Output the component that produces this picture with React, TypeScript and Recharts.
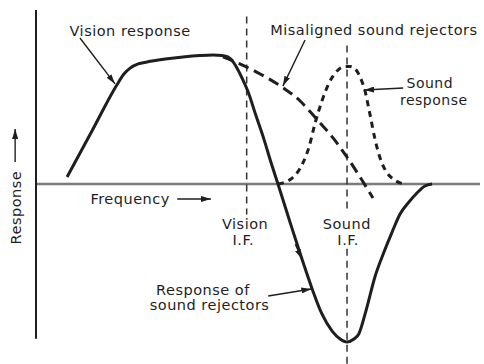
import React from 'react';
import { ComposedChart, Line, XAxis, YAxis, ReferenceLine, ReferenceDot } from 'recharts';

// frequency runs 0..100 (left edge of the axis to right), response -100..100
const mainFreq = [7, 12.6, 18.2, 19.8, 21.2, 23, 25, 29.1, 33.1, 36.9, 39.9, 41.9, 43.2, 44.4, 45.5, 46.6, 47.7, 49.5, 51.4, 52.9, 54.5, 57.2, 59.9, 62.2, 64.4, 66.7, 68.5, 70, 71.6, 72.7, 74.3, 76.4, 78.2, 80.2, 82, 84, 85.8, 87.6, 89.2];
const mainResp = [3.9, 29.4, 55, 61.1, 64.4, 66.7, 67.8, 69.4, 70.6, 71.4, 71.7, 71.4, 70.6, 67.8, 63.3, 57.8, 51.7, 38.3, 24.4, 12.2, 0, -21.1, -41.7, -58.3, -72.2, -81.7, -86.1, -87.8, -86.1, -83.3, -70.6, -51.1, -38.9, -26.7, -16.7, -10, -5, -1.1, 0];

const misFreq = [42.1, 45.9, 50.5, 55.4, 59.5, 62.8, 66.9, 70.5, 73.4, 75.9];
const misResp = [70.6, 66.7, 61.1, 53.9, 46.1, 37.2, 25.6, 13.3, 2.2, -7.8];

const soundFreq = [54.5, 57.7, 59.9, 61.5, 62.8, 64.4, 66, 67.8, 69.6, 70.7, 72.1, 73, 74.1, 75.2, 76.4, 77.5, 78.8, 80.4, 82, 83.1];
const soundResp = [0, 3.3, 10.6, 20.6, 33.3, 46.1, 56.1, 62.8, 65.3, 65.3, 63.3, 59.4, 51.7, 38.9, 24.4, 14.4, 7.2, 2.8, 0.6, 0];

const visionIF = 47.45;
const soundIF = 70.05;

const zip = (xs: number[], ys: number[]) => xs.map((x, i) => ({ x, y: ys[i] }));
const mainData = zip(mainFreq, mainResp);
const misData = zip(misFreq, misResp);
const soundData = zip(soundFreq, soundResp);

const INK = '#1e1e1e';
const FONT = 'DejaVu Sans';

const arrow = (p: any) => (
  <line x1={p.x1} y1={p.y1} x2={p.x2} y2={p.y2} stroke={INK} strokeWidth={1.4} markerEnd="url(#ah)" />
);

const txt = (x: number, y: number, value: string, angle = 0, size = 14.5) => (
  <ReferenceDot
    key={value + x + y}
    x={x}
    y={y}
    r={0}
    stroke="none"
    fill="none"
    ifOverflow="visible"
    label={{ value, position: 'center', fill: INK, fontSize: size, fontFamily: FONT, letterSpacing: 0.5, angle }}
  />
);

const seg = (a: [number, number], b: [number, number], key: string) => (
  <ReferenceLine key={key} segment={[{ x: a[0], y: a[1] }, { x: b[0], y: b[1] }]} ifOverflow="visible" shape={arrow} />
);

export default function App() {
  return (
    <div style={{ position: 'absolute', left: 0, top: 0, background: '#fff' }}>
      <svg width={0} height={0} style={{ position: 'absolute' }}>
        <defs>
          <marker id="ah" viewBox="0 0 10 10" refX={10} refY={5} markerWidth={10} markerHeight={6}
            markerUnits="userSpaceOnUse" orient="auto" preserveAspectRatio="none">
            <path d="M0,0 L10,5 L0,10 z" fill={INK} />
          </marker>
        </defs>
      </svg>
      <ComposedChart width={484} height={364} margin={{ top: 4, right: 4, bottom: 0, left: 36 }}>
        <XAxis type="number" dataKey="x" domain={[0, 100]} hide />
        <YAxis type="number" domain={[-100, 100]} hide />

        {/* axes */}
        <ReferenceLine segment={[{ x: 0, y: 0 }, { x: 100, y: 0 }]} stroke="#7a7a7a" strokeWidth={2.5} />
        <ReferenceLine segment={[{ x: 0, y: 96.7 }, { x: 0, y: -86 }]} stroke={INK} strokeWidth={2} ifOverflow="visible" />

        {/* I.F. markers */}
        <ReferenceLine segment={[{ x: visionIF, y: 93 }, { x: visionIF, y: -17 }]} stroke="#333" strokeWidth={1.5} strokeDasharray="7 5" />
        <ReferenceLine segment={[{ x: soundIF, y: 77 }, { x: soundIF, y: -16 }]} stroke="#333" strokeWidth={1.5} strokeDasharray="7 5" />
        <ReferenceLine segment={[{ x: soundIF, y: -36 }, { x: soundIF, y: -100 }]} stroke="#333" strokeWidth={1.5} strokeDasharray="7 5" />

        <Line data={misData} dataKey="y" type="monotone" stroke={INK} strokeWidth={3} strokeDasharray="11 6" dot={false} isAnimationActive={false} />
        <Line data={soundData} dataKey="y" type="monotone" stroke={INK} strokeWidth={3} strokeDasharray="6 5" dot={false} isAnimationActive={false} />
        <Line data={mainData} dataKey="y" type="monotone" stroke={INK} strokeWidth={3} dot={false} isAnimationActive={false} />

        {/* leaders */}
        {seg([9.9, 81.1], [17.8, 55.6], 'a1')}
        {seg([60.6, 80], [55.6, 54.4], 'a2')}
        {seg([82.7, 53.3], [73.9, 52.2], 'a3')}
        {seg([52.3, -62.2], [62, -58.3], 'a4')}
        {seg([58.4, -33.5], [59.9, -41.7], 'a5')}
        {seg([31.8, -8.3], [39.4, -8.3], 'a6')}
        {seg([-4.7, 12.2], [-4.7, 30.6], 'a7')}

        {/* labels */}
        {txt(21.2, 85, 'Vision response')}
        {txt(76.1, 85.6, 'Misaligned sound rejectors')}
        {txt(88.7, 56.1, 'Sound', 0, 14)}
        {txt(89.6, 46.9, 'response', 0, 14)}
        {txt(21.2, -8.3, 'Frequency')}
        {txt(47.1, -22.2, 'Vision')}
        {txt(46.7, -31.1, 'I.F.')}
        {txt(70, -22.2, 'Sound')}
        {txt(70.3, -31.1, 'I.F.')}
        {txt(37.6, -58.9, 'Response of')}
        {txt(39.1, -67.2, 'sound rejectors')}
        {txt(-4.5, -13.1, 'Response', -90)}
      </ComposedChart>
    </div>
  );
}
